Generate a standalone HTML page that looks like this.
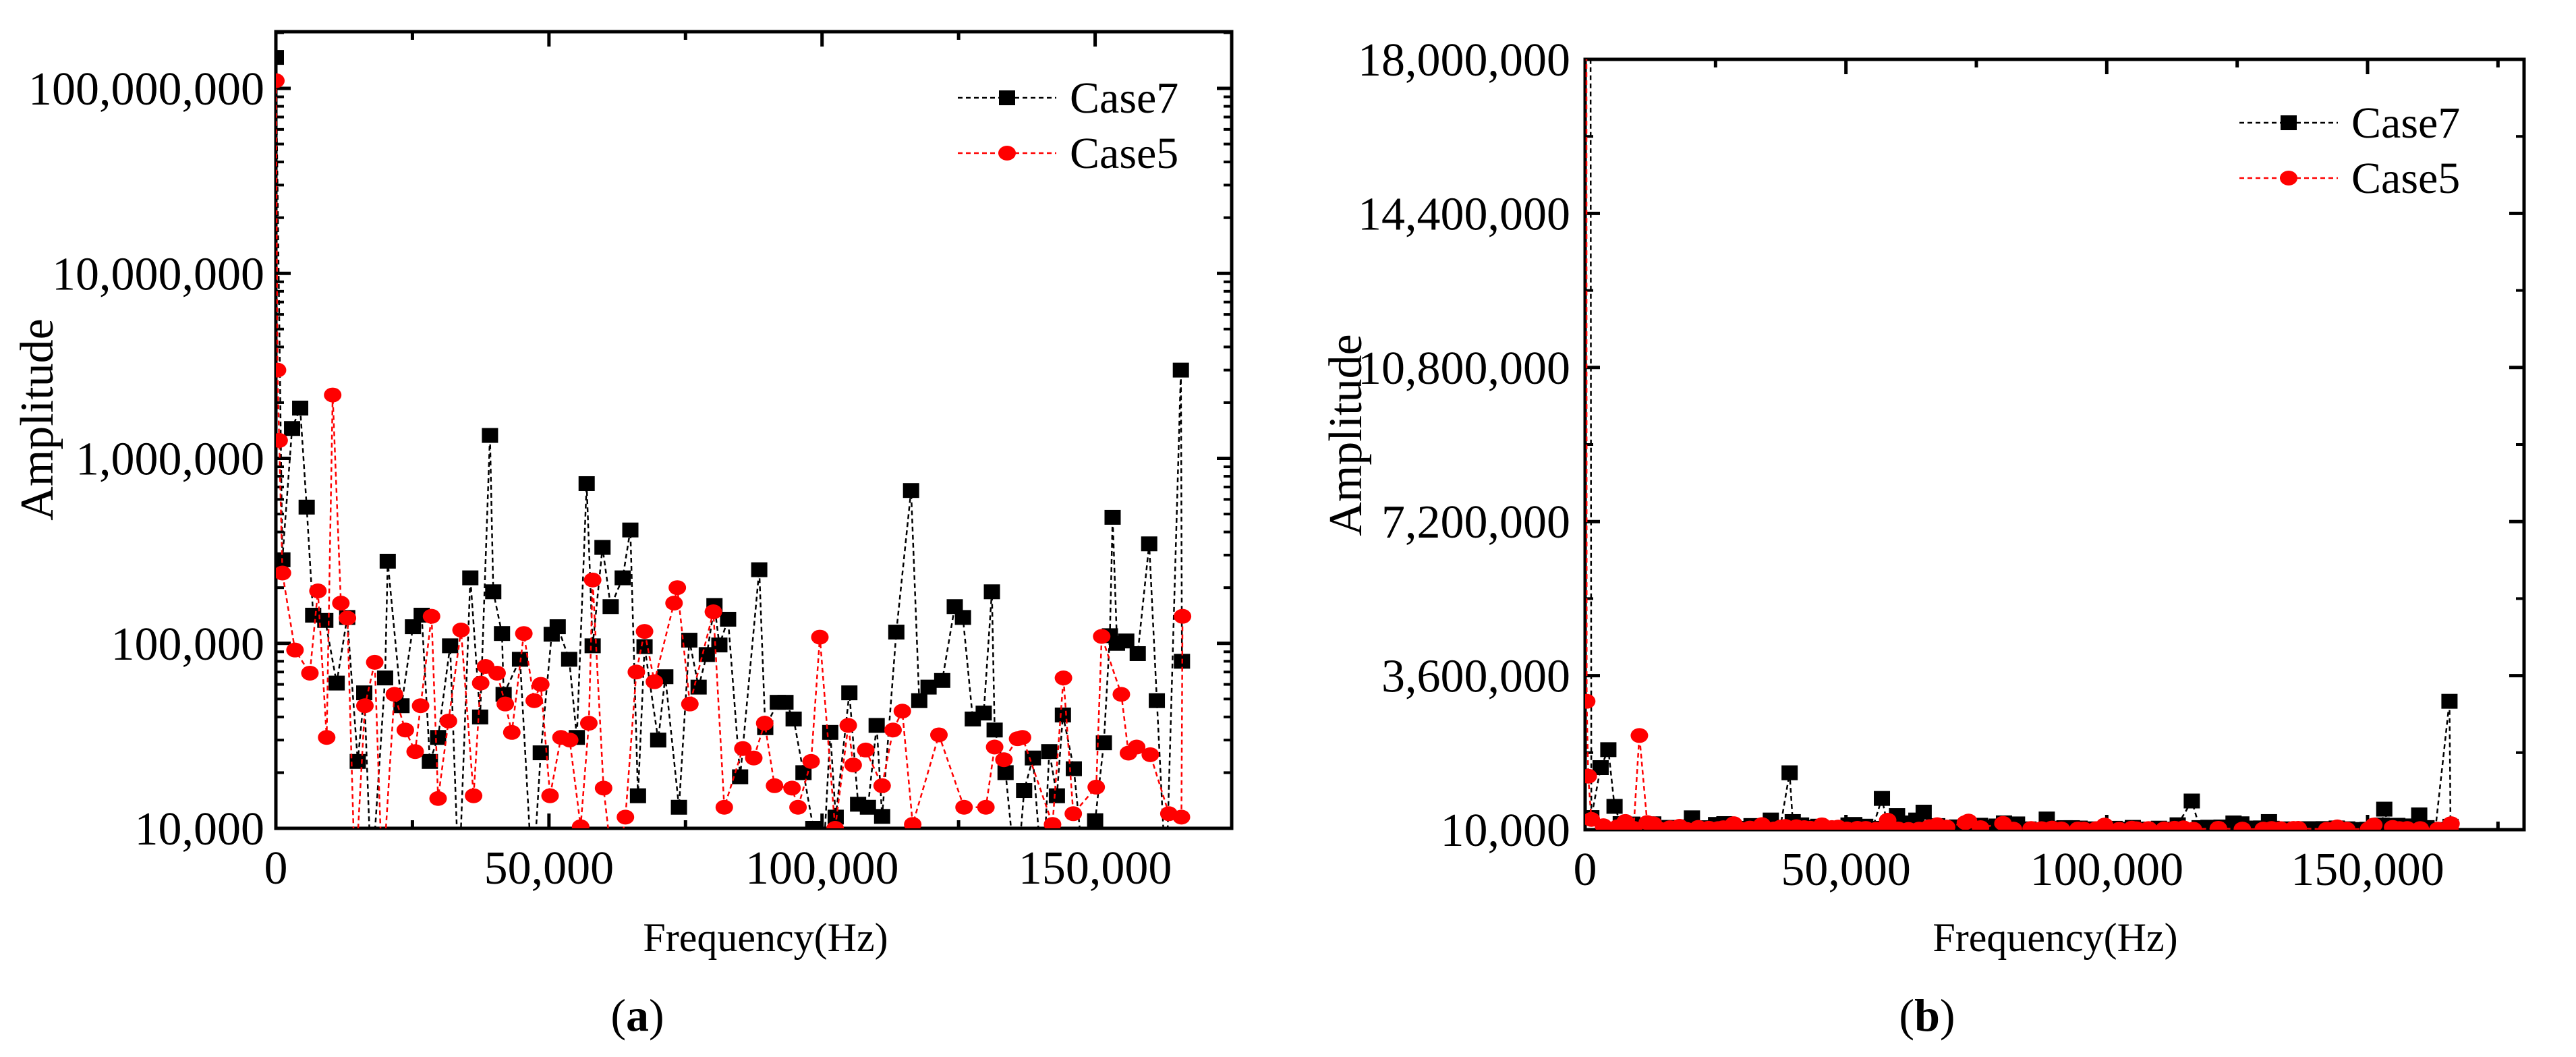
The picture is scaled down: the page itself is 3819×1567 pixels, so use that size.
<!DOCTYPE html>
<html><head><meta charset="utf-8"><style>
html,body{margin:0;padding:0;background:#fff}
svg{display:block}
svg text{font-family:"Liberation Serif","DejaVu Serif",serif !important;fill:#000}
</style></head><body>
<svg id="fig" width="3819" height="1567" viewBox="0 0 3819 1567" xmlns="http://www.w3.org/2000/svg" font-family="Liberation Serif, DejaVu Serif, serif">
<defs>
<clipPath id="clipA"><rect x="409" y="47" width="1417" height="1181"/></clipPath>
<clipPath id="clipB"><rect x="2350" y="88" width="1392" height="1142"/></clipPath>
</defs>
<g id="panelA"></g>
<g id="panelB"></g>
</svg>
<script>
const freq7 = [0,1190,2970,4450,5640,6830,9050,11130,13060,14990,16180,17500,20000,20480,23000,25100,26700,28200,29700,31900,33500,35600,37400,39200,39800,41400,41700,44700,47000,48500,50500,51600,53700,55100,56900,58000,59800,61300,63500,64900,66300,67500,70000,71300,73800,75700,77400,78900,80300,81200,82800,85000,88500,89600,91900,93300,94800,96600,98400,100000,101500,102500,105000,106600,108400,110000,111000,113600,116300,117800,119500,122000,124300,125800,127600,129600,131100,131600,133600,135600,137000,138600,140400,141600,143000,144100,146100,148200,150000,151600,152700,153200,154000,155700,157800,159900,161300,163000,165700,165900];
const amp7 = [147e6,283e3,1.45e6,1.87e6,545e3,142e3,133e3,61e3,138e3,23e3,54e3,5e3,65e3,278e3,46e3,123e3,142e3,23e3,31e3,97e3,5e3,226e3,40e3,1.33e6,190e3,113e3,53e3,82e3,5e3,25.6e3,112e3,123e3,82e3,31e3,730e3,97e3,330e3,158e3,226e3,410e3,15e3,96e3,30e3,66e3,13e3,104e3,58e3,87e3,160e3,98e3,135e3,19e3,250e3,35e3,48e3,48e3,39e3,20e3,10e3,5e3,33e3,11.5e3,54e3,13.5e3,13e3,36e3,11.6e3,115e3,670e3,49e3,58e3,63e3,158e3,138e3,39e3,42e3,190e3,34e3,20e3,5e3,16e3,24e3,5e3,26e3,15e3,41e3,21e3,5e3,11e3,29e3,110e3,480e3,100e3,103e3,88e3,345e3,49e3,5e3,3.0e6,80e3];
const freq5 = [0,300,600,1200,3500,6230,7700,9300,10400,11900,13100,14500,16300,18100,19500,21700,23700,25500,26500,28500,29700,31600,33900,36200,37500,38400,40500,42000,43200,45400,47300,48500,50200,52200,53800,55800,57300,58000,60000,62000,64000,66000,67500,69300,72900,73500,75800,80100,82100,85500,87500,89500,91300,94500,95600,98000,99600,102400,104800,105700,108000,111000,113000,114700,116600,121400,126000,130000,131600,133300,135800,136700,142200,144200,146000,150200,151200,154800,156100,157600,160100,163500,165800,166000];
const amp5 = [110e6,3e6,1.25e6,240e3,92e3,69e3,192e3,31e3,2.2e6,165e3,137e3,5e3,46e3,79e3,5e3,53e3,34e3,26e3,46e3,140e3,14.5e3,38e3,118e3,15e3,61e3,75e3,69e3,47e3,33e3,113e3,49e3,60e3,15e3,31e3,30e3,10.2e3,37e3,220e3,16.5e3,5e3,11.5e3,70e3,116e3,62e3,165e3,200e3,47e3,148e3,13e3,27e3,24e3,37e3,17e3,16.5e3,13e3,23e3,108e3,10e3,36e3,22e3,26.5e3,17e3,34e3,43e3,10.5e3,32e3,13e3,13e3,27.5e3,23.5e3,30.5e3,31e3,10.5e3,65e3,12e3,16.7e3,109e3,53e3,25.5e3,27.5e3,25e3,12e3,11.5e3,140e3];
const xTickValues = [0,50000,100000,150000];
const xTickLabels = ["0","50,000","100,000","150,000"];
const logTickValues = [1e4,1e5,1e6,1e7,1e8];
const logTickLabels = ["10,000","100,000","1,000,000","10,000,000","100,000,000"];
const linTickValues = [0,3.6e6,7.2e6,10.8e6,14.4e6,18e6];
const linTickLabels = ["10,000","3,600,000","7,200,000","10,800,000","14,400,000","18,000,000"];

const NS = "http://www.w3.org/2000/svg";
const FONT = '"Liberation Serif","DejaVu Serif",serif';
function mk(parent, tag, attrs, txt){
  const e = document.createElementNS(NS, tag);
  for (const k in attrs) e.setAttribute(k, attrs[k]);
  if (tag === 'text') e.style.fontFamily = FONT;
  if (txt !== undefined) e.textContent = txt;
  parent.appendChild(e);
  return e;
}

function drawPanel(g, cfg){
  const {L,R,T,B,xMax,yFn,yTicks,yLabels,minorY,clip,legX,legY,labelChar,titleX,titleY,freqX,yLabX} = cfg;
  const xFn = f => L + f/xMax*(R-L);
  const frame = mk(g,'rect',{x:L,y:T,width:R-L,height:B-T,fill:'none',stroke:'#000','stroke-width':5});
  
  
  for (let v=0; v<=xMax; v+=25000){
    const x = xFn(v);
    const major = v%50000===0;
    const len = major?22:12;
    const t1 = mk(g,'line',{x1:x,y1:B,x2:x,y2:B-len,stroke:'#000','stroke-width':5});
    
    
    const t2 = mk(g,'line',{x1:x,y1:T,x2:x,y2:T+len,stroke:'#000','stroke-width':5});
    
    
  }
  xTickValues.forEach((v,i)=>{
    const t = mk(g,'text',{x:xFn(v),y:B+82,'font-size':70,'text-anchor':'middle'},xTickLabels[i]);
    
    
  });
  yTicks.forEach((v,i)=>{
    const y = yFn(v);
    const a = mk(g,'line',{x1:L,y1:y,x2:L+22,y2:y,stroke:'#000','stroke-width':5});
    
    
    const b = mk(g,'line',{x1:R,y1:y,x2:R-22,y2:y,stroke:'#000','stroke-width':5});
    
    
    const t = mk(g,'text',{x:yLabX,y:y+24,'font-size':70,'text-anchor':'end'},yLabels[i]);
    
    
  });
  minorY.forEach(v=>{
    const y = yFn(v);
    if (y<T||y>B) return;
    const a = mk(g,'line',{x1:L,y1:y,x2:L+12,y2:y,stroke:'#000','stroke-width':4});
    
    
    const b = mk(g,'line',{x1:R,y1:y,x2:R-12,y2:y,stroke:'#000','stroke-width':4});
    
    
  });
  const plot = mk(g,'g',{'clip-path':'url(#'+clip+')'});
  
  
  const series = [
    {f:freq7,a:amp7,color:'#000',shape:'square',name:'case7'},
    {f:freq5,a:amp5,color:'#f00',shape:'circle',name:'case5'}
  ];
  series.forEach(s=>{
    const pts = s.f.map((f,i)=>xFn(f).toFixed(1)+','+yFn(s.a[i]).toFixed(1)).join(' ');
    const pl = mk(plot,'polyline',{points:pts,fill:'none',stroke:s.color,'stroke-width':2.5,'stroke-dasharray':'7,5'});
    
    
    s.f.forEach((f,i)=>{
      const x = xFn(f), y = yFn(s.a[i]);
      let m;
      if (s.shape==='square') m = mk(plot,'rect',{x:x-12,y:y-11,width:24,height:22,fill:s.color});
      else m = mk(plot,'ellipse',{cx:x,cy:y,rx:13,ry:11,fill:s.color});
      
      
    });
  });
  const leg = mk(g,'g',{});
  
  
  [['Case7','#000','square'],['Case5','#f00','circle']].forEach((d,i)=>{
    const y = legY + i*82;
    const e = mk(leg,'g',{});
    
    
    mk(e,'line',{x1:legX,y1:y,x2:legX+146,y2:y,stroke:d[1],'stroke-width':2.5,'stroke-dasharray':'7,5'});
    if (d[2]==='square') mk(e,'rect',{x:legX+61,y:y-11,width:24,height:22,fill:d[1]});
    else mk(e,'ellipse',{cx:legX+73,cy:y,rx:13,ry:11,fill:d[1]});
    mk(e,'text',{x:legX+166,y:y+22,'font-size':66},d[0]);
  });
  const yt = mk(g,'text',{x:titleX,y:titleY,'font-size':70,'text-anchor':'middle',transform:'rotate(-90 '+titleX+' '+titleY+')'},'Amplitude');
  
  
  const xt = mk(g,'text',{x:freqX,y:1410,'font-size':60,'text-anchor':'middle'},'Frequency(Hz)');
  
  
  const cap = mk(g,'text',{x:freqX-190,y:1528,'font-size':68,'text-anchor':'middle'});
  
  
  mk(cap,'tspan',{},'(');
  mk(cap,'tspan',{'font-weight':'bold'},labelChar);
  mk(cap,'tspan',{},')');
}

const aT=47, aB=1228;
const logY = v => { const lv = Math.log10(Math.max(v,1)); return aB - (lv-4)/(Math.log10(1e8)-4)*(aB-131); };
const minorLog = [];
for (let d=4; d<=8; d++) for (let k=2;k<=9;k++) minorLog.push(k*Math.pow(10,d));
drawPanel(document.getElementById('panelA'),{
  L:409,R:1826,T:aT,B:aB,xMax:175000,yFn:logY,yTicks:logTickValues,yLabels:logTickLabels,
  minorY:minorLog,clip:'clipA',legX:1420,legY:145,labelChar:'a',titleX:78,titleY:622,freqX:1135,yLabX:392
});

const bT=88, bB=1230;
const linY = v => bB - v/18e6*(bB-bT);
const minorLin = [];
for (let v=1.8e6; v<18e6; v+=3.6e6) minorLin.push(v);
drawPanel(document.getElementById('panelB'),{
  L:2350,R:3742,T:bT,B:bB,xMax:180000,yFn:linY,yTicks:linTickValues,yLabels:linTickLabels,
  minorY:minorLin,clip:'clipB',legX:3320,legY:182,labelChar:'b',titleX:2018,titleY:645,freqX:3047,yLabX:2328
});
</script>
</body></html>
